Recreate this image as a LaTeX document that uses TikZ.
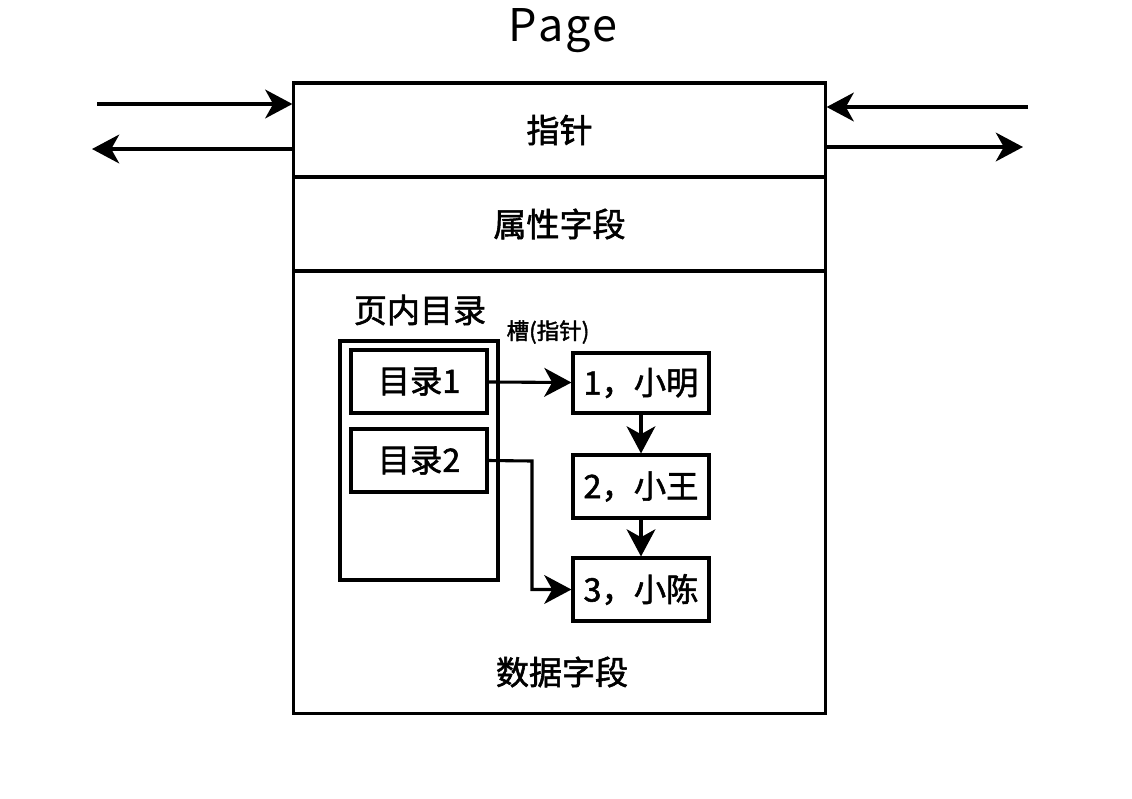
\documentclass[tikz,border=0pt]{standalone}
\usepackage{fontspec}
\setmainfont{Noto Sans CJK SC}
\newfontfamily\medfont{Noto Sans CJK SC}[FakeBold=1.7]
\usepackage{tikz}
\usetikzlibrary{arrows.meta}

\tikzset{
  part/.style={draw, line width=2.2pt, minimum width=13.275cm, minimum height=2.35cm, inner sep=0pt, font=\fontsize{23.5}{25}\selectfont\medfont},
  cell/.style={draw, line width=2.2pt, minimum width=3.4cm, inner sep=0pt, font=\fontsize{23}{24}\selectfont\medfont},
  arr/.style={line width=2.2pt, -{Stealth[length=0.68cm, width=0.72cm, inset=0.2cm]}},
}

\begin{document}
\begin{tikzpicture}[x=0.025cm, y=-0.025cm]
\useasboundingbox (0,0) rectangle (1132,798);
% title
\node[font=\fontsize{32}{34}\selectfont] (title) at (563,31) {P\kern.04em a\kern.04em g\kern.04em e};
% the page itself
\node[part] (ptr) at (559.5,130) {指针};
\node[part] (attr) at (559.5,224) {属性字段};
\node[part, minimum height=11.05cm] (data) at (559.5,492) {};
\node[font=\fontsize{23.5}{25}\selectfont\medfont] (datalbl) at (562,672) {数据字段};
% links to other pages
\coordinate (inL) at (97,104);
\coordinate (outL) at (92,149);
\coordinate (inR) at (1028,107);
\coordinate (outR) at (1023,147);
\draw[arr] (inL) -- (inL -| ptr.west);
\draw[arr] (outL -| ptr.west) -- (outL);
\draw[arr] (inR) -- (inR -| ptr.east);
\draw[arr] (outR -| ptr.east) -- (outR);
% directory
\node[font=\fontsize{23.5}{25}\selectfont\medfont] (dirlbl) at (420,310) {页内目录};
\node[draw, line width=2.2pt, minimum width=3.95cm, minimum height=5.975cm] (dir) at (419,460.5) {};
\node[cell, minimum height=1.575cm] (d1) at (419,381.5) {目录1};
\node[cell, minimum height=1.575cm] (d2) at (419,460.5) {目录2};
% records
\node[cell, minimum height=1.5cm] (r1) at (641,383) {1，小明};
\node[cell, minimum height=1.575cm] (r2) at (641,486.5) {2，小王};
\node[cell, minimum height=1.575cm] (r3) at (641,589.5) {3，小陈};
\node[font=\fontsize{16}{18}\selectfont\medfont] (slot) at (548,332) {槽(指针)};
\draw[arr] (d1) -- (r1);
\draw[arr] (r1) -- (r2);
\draw[arr] (r2) -- (r3);
\coordinate (bend) at (532,461);
\draw[arr] (d2.east) -- (bend) |- (r3.west);
\end{tikzpicture}
\end{document}
